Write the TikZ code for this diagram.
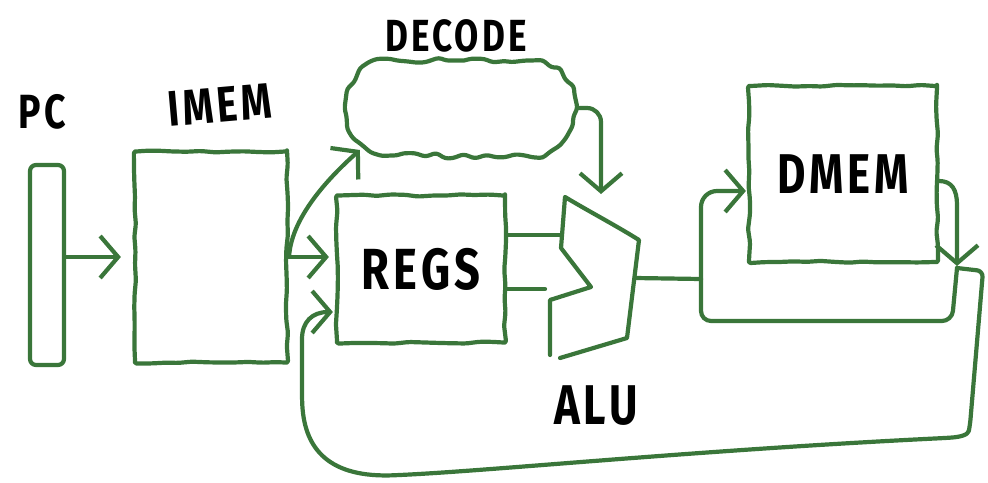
\documentclass[tikz,border=0pt]{standalone}
\usepackage{fontspec}
\newfontfamily\handfont{Fira Sans}[FakeStretch=0.78,LetterSpace=7]
\usetikzlibrary{arrows.meta,decorations.pathmorphing,shapes.misc,calc}
\definecolor{ink}{RGB}{58,118,58}

\begin{document}
\begin{tikzpicture}[x=1pt,y=-1pt,
  wire/.style={draw=ink, line width=4.2pt, line cap=round, line join=round},
  tip/.style={-{Straight Barb[length=18pt,width=42pt]}},
  wobbly/.style={decorate, decoration={random steps, segment length=14pt, amplitude=1.1pt}, rounded corners=2pt},
  box/.style={wire, wobbly, inner sep=0pt},
  cloudbox/.style={wire, rounded rectangle, inner sep=0pt, decorate,
    decoration={random steps, segment length=10pt, amplitude=3pt}, rounded corners=3pt},
  lbl/.style={text=black, inner sep=0pt},
  hand/.style={font=\handfont\bfseries\fontsize{#1}{#1}\selectfont}
]
\useasboundingbox (0,0) rectangle (988,482);

% --- blocks ---
\node[wire, rounded corners=6pt, minimum width=34, minimum height=200, inner sep=0pt] (pc) at (47,265) {};
\node[box, minimum width=152, minimum height=211] (imem) at (211,257) {};
\node[box, minimum width=168, minimum height=147, hand=58, text=black] (regs) at (421,269) {REGS};
\node[box, minimum width=188, minimum height=176, hand=56, text=black] (dmem) at (843,174) {DMEM};
\node[cloudbox, minimum width=230, minimum height=95] (decode) at (461,108) {};

% --- labels ---
\node[lbl, hand=48] (pclbl) at (42,112) {PC};
\node[lbl, hand=50, rotate=5] (imemlbl) at (220,105) {IMEM};
\node[lbl, hand=45] (decodelbl) at (456,36) {DECODE};
\node[lbl, hand=56] (alulbl) at (596,406) {ALU};

% --- ALU outline ---
\coordinate (alu-tl) at (565,197);
\coordinate (alu-tr) at (639,240);
\coordinate (alu-br) at (627,338);
\coordinate (alu-bl) at (560,358);
\coordinate (alu-n1) at (561,248);
\coordinate (alu-n2) at (591,287);
\coordinate (alu-n3) at (550,300);
\coordinate (alu-lb) at (550,355);
\coordinate (alu-a) at (560,235);
\coordinate (alu-b) at (545,289);
\coordinate (alu-o) at (635,278);
\coordinate (alu-top) at (601,194);
\draw[wire] (alu-lb) -- (alu-n3) -- (alu-n2) -- (alu-n1) -- (alu-tl)
  .. controls (590,212) and (615,225) .. (alu-tr) -- (alu-br) -- (alu-bl);

% --- junctions ---
\coordinate (j) at (701,279);
\coordinate (m) at (957,268);

% --- connectors ---
\draw[wire, tip, shorten >=12pt] (pc.east |- imem.west) -- (imem.west);
\draw[wire, tip, shorten >=6pt] (imem.east) -- (imem.east -| regs.west);
\draw[wire, tip] (imem.east) .. controls (291,215) and (335,172) .. ($(decode.west)+(16,42)$);
\draw[wire, tip, rounded corners=14pt] (decode.east) -| (alu-top);
\draw[wire] (regs.east |- alu-a) -- (alu-a);
\draw[wire] (regs.east |- alu-b) -- (alu-b);
\draw[wire] (alu-o) -- (j);
\draw[wire, tip, rounded corners=16pt, shorten >=1pt] (j) |- ($(dmem.west)+(0,17)$);
\draw[wire, rounded corners=10pt] (j) |- ($(m)+(-5,53)$) -- (m);
\draw[wire, tip, shorten >=2pt] ($(dmem.east)+(0,7)$) .. controls (952,181) and (957,190) .. (957,205) -- (m);
\draw[wire, tip, rounded corners=6pt] (m) -- (983,271) -- (970,425)
  .. controls (968,435) and (960,437) .. (945,438)
  .. controls (700,450) and (500,470) .. (400,475)
  .. controls (330,478) and (305,450) .. (302,400)
  -- (302,345) .. controls (302,322) and (312,312) .. ($(regs.west)+(-2,43)$);
\end{tikzpicture}
\end{document}
